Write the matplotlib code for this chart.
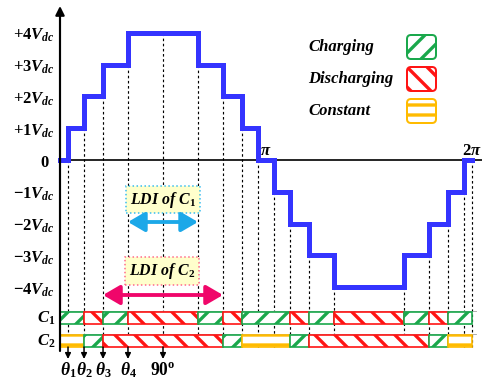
import matplotlib
matplotlib.use("Agg")
import matplotlib.pyplot as plt
from matplotlib.patches import Rectangle, FancyBboxPatch

plt.rcParams.update({
    "mathtext.fontset": "custom",
    "mathtext.rm": "Liberation Serif:bold",
    "mathtext.it": "Liberation Serif:italic:bold",
    "mathtext.bf": "Liberation Serif:bold",
    "mathtext.sf": "Liberation Serif:bold",
    "hatch.linewidth": 2.0,
})

# ---- data -------------------------------------------------------------
# switching angles of the staircase (degrees)
theta = [7.0, 21.0, 37.6, 59.4]
t1, t2, t3, t4 = theta

# switching instants over one period and the output level after each
edges = ([0.0] + theta + [180 - t for t in theta[::-1]]
         + [180 + t for t in theta] + [360 - t for t in theta[::-1]] + [360.0])
levels = [0, 1, 2, 3, 4, 3, 2, 1, 0, -1, -2, -3, -4, -3, -2, -1, 0]

level_ticks = [4, 3, 2, 1, 0, -1, -2, -3, -4]
level_labels = [r"$+4V_{dc}$", r"$+3V_{dc}$", r"$+2V_{dc}$", r"$+1V_{dc}$", r"$0$",
                r"$-1V_{dc}$", r"$-2V_{dc}$", r"$-3V_{dc}$", r"$-4V_{dc}$"]

# capacitor states: C = charging, D = discharging, K = constant
c1_edges = [0, t2, t3, t4, 180 - t4, 180 - t3, 180 - t2, 180 + t2, 180 + t3,
            180 + t4, 360 - t4, 360 - t3, 360 - t2, 360]
c1_states = ["C", "D", "C", "D", "C", "D", "C", "D", "C", "D", "C", "D", "C"]
c2_edges = [0, t2, t3, 180 - t3, 180 - t2, 180 + t2, 180 + t3, 360 - t3, 360 - t2, 360]
c2_states = ["K", "C", "D", "C", "K", "C", "D", "C", "K"]

angle_marks = [t1, t2, t3, t4, 90.0]
angle_labels = [r"$\theta_1$", r"$\theta_2$", r"$\theta_3$", r"$\theta_4$", r"$90^{\rm o}$"]

ldi1_span = [t4, 180 - t4]
ldi2_span = [t3, 180 - t3]

legend_names = ["Charging", "Discharging", "Constant"]

# ---- styles -----------------------------------------------------------
GREEN = "#1aa84c"
RED = "#ff1414"
YELLOW = "#ffbb00"
BLUE = "#3434ff"
STYLE = {
    "C": dict(edgecolor=GREEN, hatch="//"),
    "D": dict(edgecolor=RED, hatch="\\\\"),
    "K": dict(edgecolor=YELLOW, hatch="--"),
}

W, H, DPI = 482, 380, 120
SX = 206.0 / 180.0      # pixels per degree
SY = 31.8               # pixels per level
X0, Y0 = 60.0, 160.0    # pixel position of the origin


def xd(px):
    return (px - X0) / SX


def yd(py):
    return (Y0 - py) / SY


fig = plt.figure(figsize=(W / DPI, H / DPI), dpi=DPI)
ax = fig.add_axes([0, 0, 1, 1])
ax.set_xlim(xd(0), xd(W))
ax.set_ylim(yd(H), yd(0))
ax.axis("off")

# axes
ax.annotate("", xy=(0, yd(6)), xytext=(0, yd(351)),
            arrowprops=dict(arrowstyle="-|>", color="black", lw=1.3,
                            mutation_scale=11, shrinkA=0, shrinkB=0), zorder=5)
ax.plot([0, xd(W)], [0, 0], color="black", lw=1.0, zorder=2)

# staircase voltage
ax.step(edges, levels + [levels[-1]], where="post", color=BLUE, lw=3.0,
        solid_joinstyle="miter", zorder=4)

bar1_top, bar1_bot = yd(312), yd(324)
bar2_top, bar2_bot = yd(335), yd(347)

# dashed guides from the waveform down to the state bars
for i, a in enumerate(edges[1:], start=1):
    left = levels[i - 1]
    right = levels[i] if i < len(levels) else levels[-1]
    ax.plot([a, a], [min(left, right), bar2_bot], color="black", lw=0.7,
            ls=(0, (2.2, 2.2)), zorder=1)
ax.plot([90, 90], [4, bar2_bot], color="black", lw=0.7, ls=(0, (2.2, 2.2)), zorder=1)

# thin rules above the bars
for yy in (yd(310.5), yd(333.5)):
    ax.plot([0, xd(476)], [yy, yy], color="#a0a0a0", lw=0.5, zorder=1)

# capacitor state bars
for e, s, top, bot in ((c1_edges, c1_states, bar1_top, bar1_bot),
                       (c2_edges, c2_states, bar2_top, bar2_bot)):
    for a, b, st in zip(e[:-1], e[1:], s):
        ax.add_patch(Rectangle((a, bot), b - a, top - bot, facecolor="white",
                               lw=1.0, zorder=3, **STYLE[st]))

ax.text(xd(55), (bar1_top + bar1_bot) / 2, r"$C_1$", ha="right", va="center", fontsize=10)
ax.text(xd(55), (bar2_top + bar2_bot) / 2, r"$C_2$", ha="right", va="center", fontsize=10)

# level labels
for lv, lab in zip(level_ticks, level_labels):
    xr = xd(50) if lv == 0 else xd(55)
    ax.text(xr, lv - 7 / SY, lab, ha="right", va="baseline", fontsize=10)

# pi marks
ax.text(180, yd(150), r"$\pi$", ha="center", va="center", fontsize=10)
ax.text(360, yd(150), r"$2\pi$", ha="center", va="center", fontsize=10)

# angle markers below the bars
for a, lab in zip(angle_marks, angle_labels):
    ax.annotate("", xy=(a, yd(359)), xytext=(a, bar2_bot),
                arrowprops=dict(arrowstyle="-|>", color="black", lw=0.9,
                                mutation_scale=7, shrinkA=0, shrinkB=0))
    ax.text(a, yd(370), lab, ha="center", va="center", fontsize=10.5)

# LDI annotations
ax.text(90, yd(199.5), r"$LDI\ of\ C_1$", ha="center", va="center", fontsize=9.5,
        bbox=dict(boxstyle="square,pad=0.25", fc="#ffffcc", ec="#33bbee", ls=":", lw=0.9),
        zorder=6)
ax.annotate("", xy=(ldi1_span[0], yd(222)), xytext=(ldi1_span[1], yd(222)),
            arrowprops=dict(arrowstyle="<|-|>,head_length=0.6,head_width=0.35",
                            color="#1ca8e8", lw=2.3, mutation_scale=14,
                            shrinkA=0, shrinkB=0), zorder=6)
ax.text(89, yd(271), r"$LDI\ of\ C_2$", ha="center", va="center", fontsize=9.5,
        bbox=dict(boxstyle="square,pad=0.25", fc="#ffffcc", ec="#ff6688", ls=":", lw=0.9),
        zorder=6)
ax.annotate("", xy=(ldi2_span[0], yd(295)), xytext=(ldi2_span[1], yd(295)),
            arrowprops=dict(arrowstyle="<|-|>,head_length=0.6,head_width=0.35",
                            color="#f0066a", lw=2.3, mutation_scale=14,
                            shrinkA=0, shrinkB=0), zorder=6)

# legend drawn in pixel space
pax = fig.add_axes([0, 0, 1, 1])
pax.set_xlim(0, W)
pax.set_ylim(H, 0)
pax.axis("off")
pax.patch.set_visible(False)
for k, (name, st) in enumerate(zip(legend_names, ["C", "D", "K"])):
    top = 34 + 32 * k
    pax.text(308, top + 13, name, ha="left", va="center", fontsize=10,
             family="Liberation Serif", weight="bold", style="italic")
    pax.add_patch(FancyBboxPatch((407, top + 1), 29, 24,
                                 boxstyle="round,pad=0,rounding_size=4",
                                 facecolor="white", lw=1.2, **STYLE[st]))

fig.savefig("out.png", dpi=DPI)
